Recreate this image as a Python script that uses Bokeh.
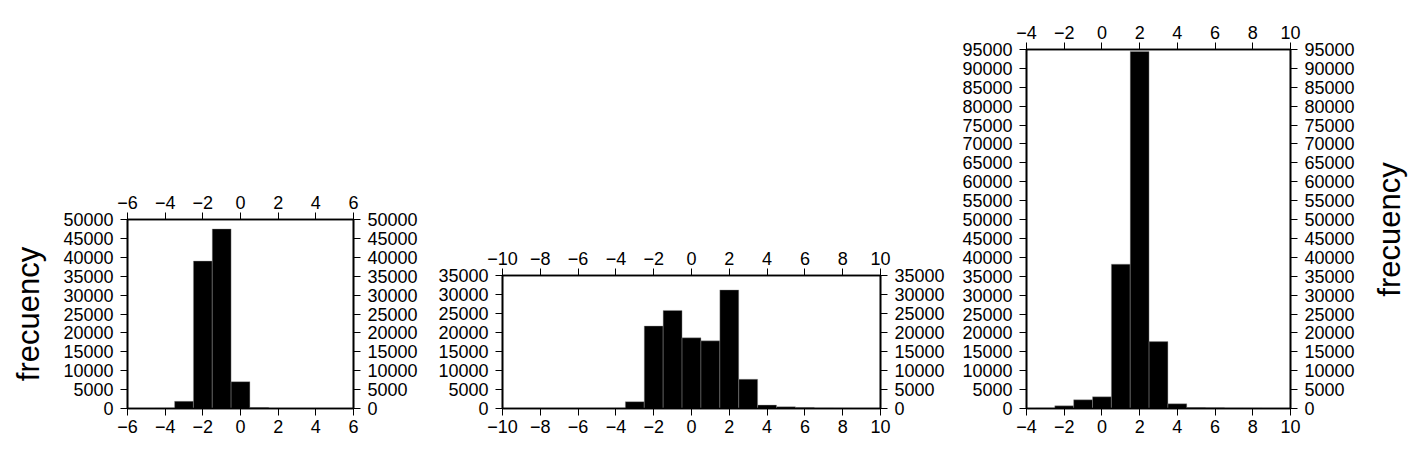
import math
from bokeh.plotting import figure
from bokeh.models import Range1d, LinearAxis, FixedTicker, ColumnDataSource
from bokeh.core.properties import value
from bokeh.embed import file_html
from bokeh.resources import INLINE

# ---- data (bin centres, bin width 1) ----
p1_centers = [-5, -4, -3, -2, -1, 0, 1, 2, 3, 4, 5]
p1_counts = [0, 30, 1900, 39000, 47500, 7100, 250, 40, 10, 0, 0]

p2_centers = [-9, -8, -7, -6, -5, -4, -3, -2, -1, 0, 1, 2, 3, 4, 5, 6, 7, 8, 9]
p2_counts = [0, 0, 0, 0, 0, 20, 1800, 21700, 25800, 18600, 17800, 31200, 7700, 900, 450, 270, 150, 30, 0]

p3_centers = [-3, -2, -1, 0, 1, 2, 3, 4, 5, 6, 7, 8, 9]
p3_counts = [80, 700, 2300, 3100, 38200, 94500, 17700, 1250, 250, 200, 150, 100, 0]

bin_width = 1.0

p1_xticks = [-6, -4, -2, 0, 2, 4, 6]
p1_yticks = list(range(0, 50001, 5000))
p2_xticks = [-10, -8, -6, -4, -2, 0, 2, 4, 6, 8, 10]
p2_yticks = list(range(0, 35001, 5000))
p3_xticks = [-4, -2, 0, 2, 4, 6, 8, 10]
p3_yticks = list(range(0, 95001, 5000))

y_title = "frecuency"

FONT = "Liberation Sans"
TICK_FS = "18px"
TITLE_FS = "31px"


def lab(v):
    return str(v).replace("-", "\u2212")


def style_axis(ax, ticks):
    ax.ticker = FixedTicker(ticks=ticks)
    ax.major_label_overrides = {t: lab(t) for t in ticks}
    ax.minor_tick_line_color = None
    ax.major_tick_in = 0
    ax.major_tick_out = 7
    ax.major_tick_line_width = 1
    ax.major_tick_line_color = "black"
    ax.axis_line_width = 1.6
    ax.axis_line_color = "black"
    ax.major_label_text_font = FONT
    ax.major_label_text_font_size = TICK_FS
    ax.major_label_text_color = "black"
    ax.axis_label_text_font = FONT
    ax.axis_label_text_font_size = TITLE_FS
    ax.axis_label_text_font_style = "normal"
    ax.axis_label_text_color = "black"


def make_panel(centers, counts, xr, yr, xticks, yticks, width, height,
               bl, br, bt, bb, left_title=None):
    p = figure(width=width, height=height, output_backend="svg",
               toolbar_location=None, x_range=Range1d(*xr), y_range=Range1d(*yr),
               min_border_left=bl, min_border_right=br,
               min_border_top=bt, min_border_bottom=bb)
    p.xgrid.visible = False
    p.ygrid.visible = False
    p.outline_line_color = "black"
    p.outline_line_width = 1.6
    p.background_fill_color = "white"
    p.border_fill_color = "white"

    src = ColumnDataSource(dict(
        left=[c - bin_width / 2 for c in centers],
        right=[c + bin_width / 2 for c in centers],
        top=counts,
        bottom=[0] * len(counts),
    ))
    p.quad(left="left", right="right", top="top", bottom="bottom", source=src,
           fill_color="black", line_color="#9a9a9a", line_width=0.4)

    top_ax = LinearAxis()
    right_ax = LinearAxis()
    p.add_layout(top_ax, "above")
    p.add_layout(right_ax, "right")
    for ax in p.xaxis:
        style_axis(ax, xticks)
        ax.major_label_standoff = 4
    for ax in p.yaxis:
        style_axis(ax, yticks)
        ax.major_label_standoff = 7
    if left_title:
        p.yaxis[0].axis_label = left_title
        p.yaxis[0].axis_label_standoff = 14
    return p


H = 458
p1 = make_panel(p1_centers, p1_counts, (-6, 6), (0, 50000), p1_xticks, p1_yticks,
                430, H, 127, 77, 219, 50, left_title=y_title)
p2 = make_panel(p2_centers, p2_counts, (-10, 10), (0, 35000), p2_xticks, p2_yticks,
                520, H, 72, 70, 275, 50)
p3 = make_panel(p3_centers, p3_counts, (-4, 10), (0, 95000), p3_xticks, p3_yticks,
                415, H, 76, 75, 49, 50)

# right-hand title of the third panel (reads bottom-to-top, like the left one)
pt = figure(width=48, height=H, output_backend="svg", toolbar_location=None,
            x_range=Range1d(0, 1), y_range=Range1d(0, 1),
            x_axis_location=None, y_axis_location=None,
            min_border=0)
pt.xgrid.visible = False
pt.ygrid.visible = False
pt.outline_line_color = None
pt.text(x=[0.5], y=[0.5], text=[y_title], angle=math.pi / 2,
        text_align="center", text_baseline="middle",
        text_font=value(FONT), text_font_size=value(TITLE_FS), text_color="black")

# independent roots laid side by side (no frame alignment between panels)
TEMPLATE = """
{% block inner_head %}{{ super() }}
<style>
  body { display: flex !important; flex-direction: row !important; align-items: flex-start !important; }
</style>
{% endblock %}
"""

open("out.html", "w").write(file_html([p1, p2, p3, pt], INLINE, template=TEMPLATE))
